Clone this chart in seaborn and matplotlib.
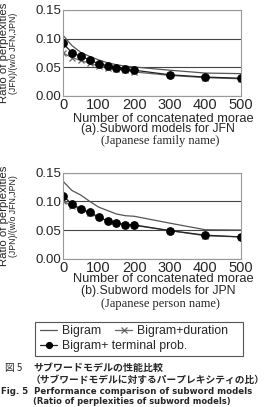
import numpy as np
import pandas as pd
import matplotlib
matplotlib.use("Agg")
import matplotlib.pyplot as plt
import seaborn as sns
from matplotlib.patches import Rectangle

# ---------------- data ----------------
morae = [0, 25, 50, 75, 100, 125, 150, 175, 200, 300, 400, 500]

jfn_bigram   = [0.106, 0.088, 0.076, 0.069, 0.063, 0.058, 0.0546, 0.052, 0.0506, 0.045, 0.040, 0.039]
jfn_duration = [0.075, 0.067, 0.062, 0.057, 0.052, 0.049, 0.047, 0.045, 0.042, 0.036, 0.032, 0.030]
jfn_terminal = [0.092, 0.0755, 0.069, 0.063, 0.056, 0.053, 0.0495, 0.0465, 0.045, 0.037, 0.033, 0.031]

jpn_bigram   = [0.135, 0.119, 0.111, 0.100, 0.090, 0.084, 0.078, 0.075, 0.074, 0.062, 0.0505, 0.050]
jpn_duration = [0.101, 0.092, 0.086, 0.079, 0.072, 0.066, 0.062, 0.059, 0.058, 0.049, 0.040, 0.038]
jpn_terminal = [0.110, 0.095, 0.087, 0.081, 0.073, 0.066, 0.063, 0.059, 0.059, 0.049, 0.041, 0.038]

yticks = [0.00, 0.05, 0.10, 0.15]
ytick_labels = ["0.00", "0.05", "0.10", "0.15"]
xticks = [0, 100, 200, 300, 400, 500]

series_names = ["Bigram", "Bigram+duration", "Bigram+ terminal prob."]

# ---------------- style ----------------
sns.set_style("white")
plt.rcParams['font.family'] = ['Liberation Sans', 'Noto Sans CJK JP', 'DejaVu Sans']

W, H = 269, 407
fig = plt.figure(figsize=(W / 100, H / 100), dpi=100)

def fx(px):
    return px / W

def fy(py):
    return 1 - py / H

ax1 = fig.add_axes([fx(63), fy(96), fx(178), 86 / H])
ax2 = fig.add_axes([fx(63), fy(258.7), fx(178), 86 / H])

handles = None
for ax, big, dur, term in [(ax1, jfn_bigram, jfn_duration, jfn_terminal),
                           (ax2, jpn_bigram, jpn_duration, jpn_terminal)]:
    df = pd.DataFrame({"morae": morae, "big": big, "dur": dur, "term": term})
    sns.lineplot(data=df, x="morae", y="big", color="#555555", lw=0.9, ax=ax, label=series_names[0])
    sns.lineplot(data=df, x="morae", y="dur", color="#666666", lw=0.9, marker="x",
                 markersize=5, markeredgewidth=0.9, markeredgecolor="#666666", ax=ax, label=series_names[1])
    sns.lineplot(data=df, x="morae", y="term", color="#222222", lw=0.9, marker="o",
                 markersize=5.5, markeredgecolor="black", markerfacecolor="black", ax=ax, label=series_names[2])
    handles = ax.get_lines()[:3]
    ax.get_legend().remove()
    ax.set_xlim(0, 500)
    ax.set_ylim(0, 0.15)
    ax.set_yticks(yticks)
    ax.set_yticklabels(ytick_labels, fontsize=9.5)
    ax.set_xticks(xticks)
    ax.set_xticklabels([str(t) for t in xticks], fontsize=10.5)
    ax.grid(axis="y", color="#444444", lw=0.8)
    ax.grid(axis="x", visible=False)
    ax.tick_params(axis="y", length=0, pad=1)
    ax.tick_params(axis="x", direction="in", length=4, color="#777777", pad=1.5)
    ax.set_xlabel("")
    ax.set_ylabel("")
    for s in ax.spines.values():
        s.set_color("#999999")
        s.set_linewidth(0.8)

# axis labels and captions
for yc, sub, xl_y, c1_y, c1, c2_y, c2 in [
        (53, "(JFN)/(w/o JFN,JPN)", 118.5, 129, "(a).Subword models for JFN", 141, "(Japanese family name)"),
        (215.7, "(JPN)/(w/o JFN,JPN)", 279.5, 291, "(b).Subword models for JPN", 304, "(Japanese person name)")]:
    fig.text(fx(4.5), fy(yc), "Ratio of perplexities", rotation=90, ha="center", va="center", fontsize=8.2)
    fig.text(fx(14), fy(yc), sub, rotation=90, ha="center", va="center", fontsize=6.3)
    fig.text(fx(163), fy(xl_y), "Number of concatenated morae", ha="center", va="center", fontsize=9.3)
    fig.text(fx(158), fy(c1_y), c1, ha="center", va="center", fontsize=8.8)
    fig.text(fx(160), fy(c2_y), c2, ha="center", va="center", fontsize=9,
             family=["Liberation Serif", "DejaVu Serif"])

# legend
fig.patches.append(Rectangle((fx(35), fy(356)), fx(208), 34 / H, transform=fig.transFigure,
                             fill=False, edgecolor="#555555", lw=0.8))
leg_kw = dict(frameon=False, loc="center left", fontsize=8.8, handlelength=1.4,
              handletextpad=0.4, borderpad=0, borderaxespad=0, markerscale=0.8)
fig.legend(handles=[handles[0]], labels=[series_names[0]], bbox_to_anchor=(fx(40), fy(331)), **leg_kw)
fig.legend(handles=[handles[1]], labels=[series_names[1]], bbox_to_anchor=(fx(115), fy(331)), **leg_kw)
fig.legend(handles=[handles[2]], labels=[series_names[2]], bbox_to_anchor=(fx(40), fy(346)), **leg_kw)

# figure caption
cjk = ["Noto Sans CJK JP", "DejaVu Sans"]
fig.text(fx(5), fy(368), "図 5", ha="left", va="center", fontsize=7, family=cjk)
fig.text(fx(33), fy(368), "サブワードモデルの性能比較", ha="left", va="center", fontsize=7.2,
         fontweight="bold", family=cjk)
fig.text(fx(31), fy(380), "（サブワードモデルに対するパープレキシティの比）", ha="left", va="center",
         fontsize=7, fontweight="bold", family=cjk)
fig.text(fx(1), fy(392), "Fig. 5  Performance comparison of subword models", ha="left", va="center",
         fontsize=6.2, fontweight="bold", family=["DejaVu Sans"])
fig.text(fx(33), fy(401.5), "(Ratio of perplexities of subword models)", ha="left", va="center",
         fontsize=6, fontweight="bold", family=["DejaVu Sans"])

fig.savefig("out.png", dpi=100)
